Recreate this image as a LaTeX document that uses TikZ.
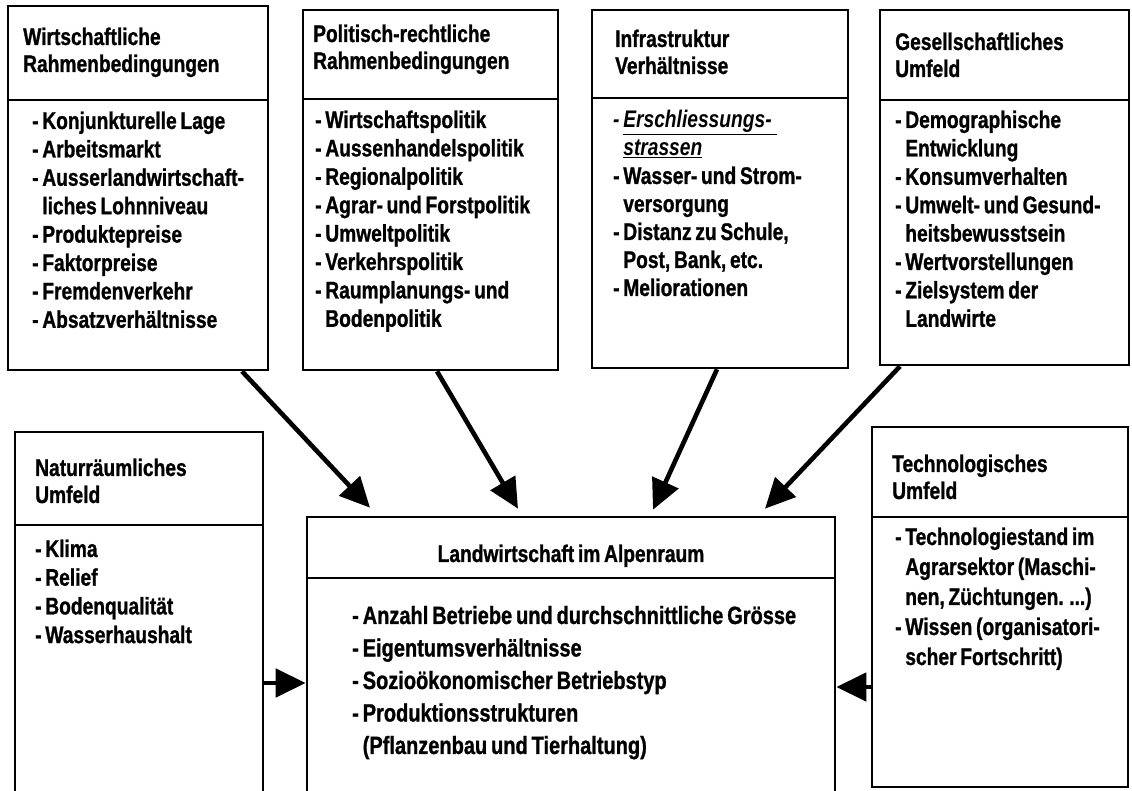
\documentclass[tikz,border=0pt]{standalone}
\usepackage{fontspec}
\setmainfont{Liberation Sans}[FakeStretch=0.8, WordSpace=0.7, BoldFeatures={FakeBold=1}]
\usetikzlibrary{arrows.meta}

\begin{document}
\begin{tikzpicture}[
  x=1pt, y=1pt,
  box/.style={draw, line width=2.6pt, inner sep=0pt},
  divline/.style={line width=1.4pt},
  hd/.style={anchor=base west, inner sep=0pt, align=flush left, text width=232pt,
    font=\fontsize{24}{27}\selectfont\bfseries},
  li/.style={hd, font=\fontsize{24}{28.4}\selectfont\bfseries},
  ttl/.style={anchor=base, inner sep=0pt, font=\fontsize{24}{27}\selectfont\bfseries},
  arr/.style={-{Triangle[length=30pt, width=28pt]}, line width=4.6pt}
]
\useasboundingbox (0,0) rectangle (1132,790);
\clip (0,0) rectangle (1132,790);

% boxes
\node[box, minimum width=260, minimum height=364] (wirt)  at (138,602)    {};
\node[box, minimum width=255, minimum height=360] (pol)   at (430.5,600)  {};
\node[box, minimum width=256, minimum height=358] (infra) at (720,601)    {};
\node[box, minimum width=249, minimum height=355] (ges)   at (1004.5,602.5) {};
\node[box, minimum width=248, minimum height=400] (nat)   at (139,158)    {};
\node[box, minimum width=528, minimum height=315] (ctr)   at (571,115.5)  {};
\node[box, minimum width=256, minimum height=360] (tech)  at (1000,183)   {};

% header rules
\draw[divline] (wirt.west |- 0,690)  -- (wirt.east |- 0,690);
\draw[divline] (pol.west |- 0,691)   -- (pol.east |- 0,691);
\draw[divline] (infra.west |- 0,692) -- (infra.east |- 0,692);
\draw[divline] (ges.west |- 0,690)   -- (ges.east |- 0,690);
\draw[divline] (nat.west |- 0,265)   -- (nat.east |- 0,265);
\draw[divline] (ctr.west |- 0,212)   -- (ctr.east |- 0,212);
\draw[divline] (tech.west |- 0,273)  -- (tech.east |- 0,273);

% texts
\node[hd] (wirt-h) at (23,745) {Wirtschaftliche\\Rahmenbedingungen};
\node[li] (wirt-l) at (32,661) {- Konjunkturelle Lage\\- Arbeitsmarkt\\- Ausserlandwirtschaft-\\\hphantom{- }liches Lohnniveau\\- Produktepreise\\- Faktorpreise\\- Fremdenverkehr\\- Absatzverh\"altnisse};

\node[hd] (pol-h) at (313,748) {Politisch-rechtliche\\Rahmenbedingungen};
\node[li] (pol-l) at (315,662) {- Wirtschaftspolitik\\- Aussenhandelspolitik\\- Regionalpolitik\\- Agrar- und Forstpolitik\\- Umweltpolitik\\- Verkehrspolitik\\- Raumplanungs- und\\\hphantom{- }Bodenpolitik};

\node[hd] (infra-h) at (615,743) {Infrastruktur\\Verh\"altnisse};
\node[li, font=\fontsize{24}{28}\selectfont\bfseries] (infra-l) at (613,662)
  {\textit{- }\underline{\textit{Erschliessungs-}\hspace{5pt}}\\\hphantom{- }\underline{\textit{strassen}}\\- Wasser- und Strom-\\\hphantom{- }versorgung\\- Distanz zu Schule,\\\hphantom{- }Post, Bank, etc.\\- Meliorationen};

\node[hd] (ges-h) at (895,740) {Gesellschaftliches\\Umfeld};
\node[li] (ges-l) at (895,662) {- Demographische\\\hphantom{- }Entwicklung\\- Konsumverhalten\\- Umwelt- und Gesund-\\\hphantom{- }heitsbewusstsein\\- Wertvorstellungen\\- Zielsystem der\\\hphantom{- }Landwirte};

\node[hd] (nat-h) at (35,314) {Naturr\"aumliches\\Umfeld};
\node[li, font=\fontsize{24}{28.7}\selectfont\bfseries] (nat-l) at (35,233) {- Klima\\- Relief\\- Bodenqualit\"at\\- Wasserhaushalt};

\node[ttl] (ctr-h) at (571,228) {Landwirtschaft im Alpenraum};
\node[li, text width=470pt, font=\fontsize{25}{32.5}\selectfont\bfseries] (ctr-l) at (352,166)
  {- Anzahl Betriebe und durchschnittliche Gr\"osse\\- Eigentumsverh\"altnisse\\- Sozio\"okonomischer Betriebstyp\\- Produktionsstrukturen\\\hphantom{- }(Pflanzenbau und Tierhaltung)};

\node[hd] (tech-h) at (892,318) {Technologisches\\Umfeld};
\node[li, font=\fontsize{24}{30}\selectfont\bfseries] (tech-l) at (895,245)
  {- Technologiestand im\\\hphantom{- }Agrarsektor (Maschi-\\\hphantom{- }nen, Z\"uchtungen. ...)\\- Wissen (organisatori-\\\hphantom{- }scher Fortschritt)};

% arrows
\draw[arr] ([xshift=104]wirt.south)   -- ([xshift=-201,yshift=8]ctr.north);
\draw[arr] ([xshift=6.5]pol.south)    -- ([xshift=-53,yshift=7]ctr.north);
\draw[arr] ([xshift=-3]infra.south)   -- ([xshift=82,yshift=6]ctr.north);
\draw[arr] ([xshift=-104.5]ges.south) -- ([xshift=194,yshift=7]ctr.north);
\coordinate (natarr) at ([yshift=-51]nat.east);
\coordinate (techarr) at ([yshift=-80]tech.west);
\draw[arr] (natarr)  -- (natarr -| ctr.west);
\draw[arr] (techarr) -- (techarr -| ctr.east);
\end{tikzpicture}
\end{document}
